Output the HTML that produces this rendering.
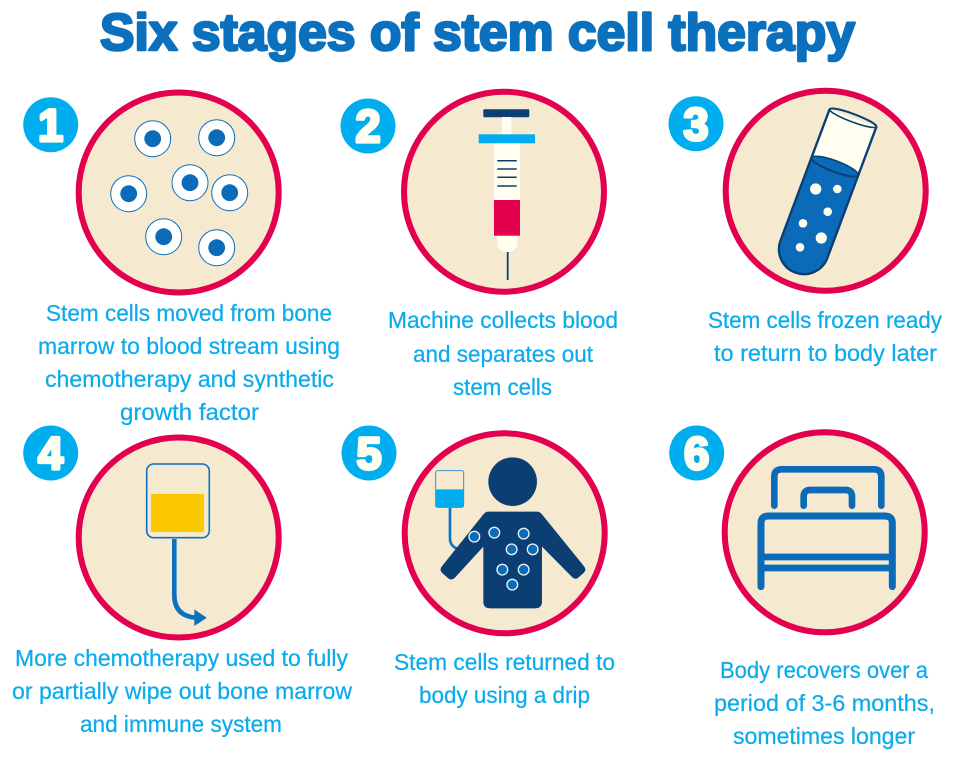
<!DOCTYPE html>
<html><head><meta charset="utf-8"><style>
html,body{margin:0;padding:0;background:#fff}
svg{display:block}
.t{font-family:"Liberation Sans",sans-serif;font-weight:bold;font-size:52px;fill:#0b70bd;stroke:#0b70bd;stroke-width:2.6px;stroke-linejoin:round}
.l{font-family:"Liberation Sans",sans-serif;font-size:23.5px;fill:#0cabec;stroke:#0cabec;stroke-width:.25px}
.c{fill:#f5ead0;stroke:#e2004f;stroke-width:6px}
.b{fill:#00aeef}
.n{font-family:"Liberation Sans",sans-serif;font-weight:bold;font-size:45px;fill:#fffef2;stroke:#fffef2;stroke-width:3.2px;stroke-linejoin:round;text-anchor:middle}
</style></head><body>
<svg width="954" height="768" viewBox="0 0 954 768" xmlns="http://www.w3.org/2000/svg">
<rect width="954" height="768" fill="#fff"/>
<text class="t" x="100" y="50" textLength="755" lengthAdjust="spacingAndGlyphs">Six stages of stem cell therapy</text>

<circle class="c" cx="178.7" cy="192.5" r="100"/>
<circle class="c" cx="504" cy="191.7" r="100"/>
<circle class="c" cx="825.7" cy="190.7" r="100"/>
<circle class="c" cx="178.7" cy="537.5" r="100"/>
<circle class="c" cx="504.7" cy="533.3" r="100"/>
<circle class="c" cx="824.7" cy="532.3" r="100"/>

<circle class="b" cx="50.7" cy="124.7" r="27.5"/><text class="n" x="50.7" y="141">1</text>
<circle class="b" cx="368" cy="126" r="27.5"/><text class="n" x="368" y="142">2</text>
<circle class="b" cx="696" cy="123.7" r="27.5"/><text class="n" x="696" y="140">3</text>
<circle class="b" cx="50.7" cy="453" r="27.5"/><text class="n" x="50.7" y="469">4</text>
<circle class="b" cx="369" cy="453" r="27.5"/><text class="n" x="369" y="469">5</text>
<circle class="b" cx="696.7" cy="453" r="27.5"/><text class="n" x="696.7" y="469">6</text>

<!-- cells -->
<g fill="#fff" stroke="#0b70bd" stroke-width="1">
<circle cx="152.7" cy="138.7" r="18"/><circle cx="216.7" cy="137.7" r="18"/><circle cx="128.7" cy="193.7" r="18"/>
<circle cx="190" cy="182.7" r="18"/><circle cx="229.7" cy="192.7" r="18"/><circle cx="163.7" cy="236.7" r="18"/><circle cx="216.7" cy="247.7" r="18"/>
</g>
<g fill="#0b6bb8">
<circle cx="152.7" cy="138.7" r="8.4"/><circle cx="216.7" cy="137.7" r="8.4"/><circle cx="128.7" cy="193.7" r="8.4"/>
<circle cx="190" cy="182.7" r="8.4"/><circle cx="229.7" cy="192.7" r="8.4"/><circle cx="163.7" cy="236.7" r="8.4"/><circle cx="216.7" cy="247.7" r="8.4"/>
</g>

<!-- syringe -->
<rect x="483.3" y="109.3" width="46" height="8" rx="1" fill="#0b3f73"/>
<rect x="502" y="117" width="9.3" height="18" fill="#fffef0"/>
<rect x="494" y="143" width="26" height="58" fill="#fffef0"/>
<path d="M497.3 235 H517.3 V247 L511 252 H503 L497.3 247Z" fill="#fffef0"/>
<rect x="494" y="200" width="26" height="35.7" fill="#e2004f"/>
<rect x="478.7" y="134.3" width="56.3" height="9" fill="#00aeef"/>
<g stroke="#0b3f73" stroke-width="1.5"><path d="M497.3 160.7H516.7M497.3 169H516.7M497.3 177.3H516.7M497.3 186H516.7" fill="none"/></g>
<path d="M507.7 252V280" stroke="#0b3f73" stroke-width="1.8"/>

<!-- tube -->
<g transform="translate(853,118) rotate(20.5)">
<path d="M-25 0 V140 A25 25 0 0 0 25 140 V0 Z" fill="#fffef0"/>
<path d="M-25 52 A25 5 0 0 1 25 52 V140 A25 25 0 0 1 -25 140 Z" fill="#0b6bb8"/>
<path d="M-25 52 A25 5 0 0 0 25 52" fill="none" stroke="#0b3f73" stroke-width="2"/>
<path d="M-25 52 A25 6 0 0 1 25 52" fill="#0b6bb8" stroke="#0b3f73" stroke-width="1.6"/>
<path d="M-25 0 V140 A25 25 0 0 0 25 140 V0" fill="none" stroke="#0b3f73" stroke-width="2.4"/>
<path d="M-25 0 A25 4 0 0 1 25 0" fill="none" stroke="#0b3f73" stroke-width="2"/>
<path d="M-25 0 A25 4 0 0 0 25 0" fill="none" stroke="#0b3f73" stroke-width="1.6"/>
</g>
<g fill="#fffef0">
<circle cx="815.7" cy="189" r="5.6"/><circle cx="837.3" cy="189" r="4.3"/><circle cx="827.7" cy="211.7" r="4.3"/>
<circle cx="803" cy="223.3" r="4.3"/><circle cx="821.3" cy="238" r="5.6"/><circle cx="800" cy="247.3" r="4.3"/>
</g>

<!-- bag 4 -->
<rect x="146.7" y="464" width="62.6" height="73.7" rx="7" fill="#f5ead0" stroke="#0b70bd" stroke-width="1.6"/>
<rect x="151" y="494" width="53" height="38" fill="#fcc800"/>
<path d="M174.3 539V595Q174.3 616 196 617.7" fill="none" stroke="#0b70bd" stroke-width="4.6"/>
<path d="M194.3 609.5L206.8 617.7L194.3 626Z" fill="#0b70bd"/>

<!-- person -->
<g transform="translate(340,425) scale(.3333)">
<circle cx="518" cy="170" r="73" fill="#0b3f73"/>
<path d="M330 247V340Q330 362 350 370" fill="none" stroke="#0b78c9" stroke-width="8"/>
<rect x="287" y="137" width="84" height="110" rx="6" fill="#f5ead0" stroke="#3f93cf" stroke-width="3"/>
<path d="M286 193H372V241Q372 247 366 247H292Q286 247 286 241Z" fill="#00aeef"/>
<path d="M445 260H590Q600 260 606 268L733 425Q740 435 732 443L715 458Q705 466 695 455L606 365V530Q606 550 586 550H450Q430 550 430 530V365L345 458Q335 468 325 460L308 445Q297 435 305 425L430 268Q437 260 445 260Z" fill="#0b3f73"/>
<g fill="#0b6bb8" stroke="#e8f3fa" stroke-width="4">
<circle cx="403" cy="335" r="16"/><circle cx="463" cy="323" r="16"/><circle cx="551" cy="326" r="16"/><circle cx="515" cy="373" r="16"/>
<circle cx="578" cy="373" r="16"/><circle cx="487" cy="434" r="16"/><circle cx="551" cy="434" r="16"/><circle cx="517" cy="479" r="16"/>
</g>
</g>

<!-- bed -->
<g transform="translate(660,425) scale(.3333)" fill="none" stroke="#0b6bb8" stroke-linecap="round">
<path stroke-width="20" d="M343 242V155Q343 133 365 133H642Q664 133 664 155V242"/>
<path stroke-width="20" d="M431 242V215Q431 195 451 195H556Q576 195 576 215V242"/>
<path stroke-width="21" d="M303 485V295Q303 273 325 273H675Q697 273 697 295V485"/>
<path stroke-width="20" stroke-linecap="butt" d="M303 396H697M303 429H697"/>
</g>

<!-- labels -->
<text class="l" x="46" y="321" textLength="286" lengthAdjust="spacingAndGlyphs">Stem cells moved from bone</text>
<text class="l" x="38" y="354" textLength="302" lengthAdjust="spacingAndGlyphs">marrow to blood stream using</text>
<text class="l" x="45" y="387" textLength="289" lengthAdjust="spacingAndGlyphs">chemotherapy and synthetic</text>
<text class="l" x="120" y="420" textLength="139" lengthAdjust="spacingAndGlyphs">growth factor</text>

<text class="l" x="388" y="328" textLength="230" lengthAdjust="spacingAndGlyphs">Machine collects blood</text>
<text class="l" x="413" y="362" textLength="180" lengthAdjust="spacingAndGlyphs">and separates out</text>
<text class="l" x="453" y="395" textLength="99" lengthAdjust="spacingAndGlyphs">stem cells</text>

<text class="l" x="708" y="328" textLength="234" lengthAdjust="spacingAndGlyphs">Stem cells frozen ready</text>
<text class="l" x="714" y="361" textLength="223" lengthAdjust="spacingAndGlyphs">to return to body later</text>

<text class="l" x="15" y="666" textLength="333" lengthAdjust="spacingAndGlyphs">More chemotherapy used to fully</text>
<text class="l" x="12" y="699" textLength="340" lengthAdjust="spacingAndGlyphs">or partially wipe out bone marrow</text>
<text class="l" x="80" y="732" textLength="202" lengthAdjust="spacingAndGlyphs">and immune system</text>

<text class="l" x="394" y="670" textLength="221" lengthAdjust="spacingAndGlyphs">Stem cells returned to</text>
<text class="l" x="419" y="703" textLength="171" lengthAdjust="spacingAndGlyphs">body using a drip</text>

<text class="l" x="720" y="678" textLength="208" lengthAdjust="spacingAndGlyphs">Body recovers over a</text>
<text class="l" x="714" y="711" textLength="221" lengthAdjust="spacingAndGlyphs">period of 3-6 months,</text>
<text class="l" x="733" y="744" textLength="182" lengthAdjust="spacingAndGlyphs">sometimes longer</text>
</svg>
</body></html>
